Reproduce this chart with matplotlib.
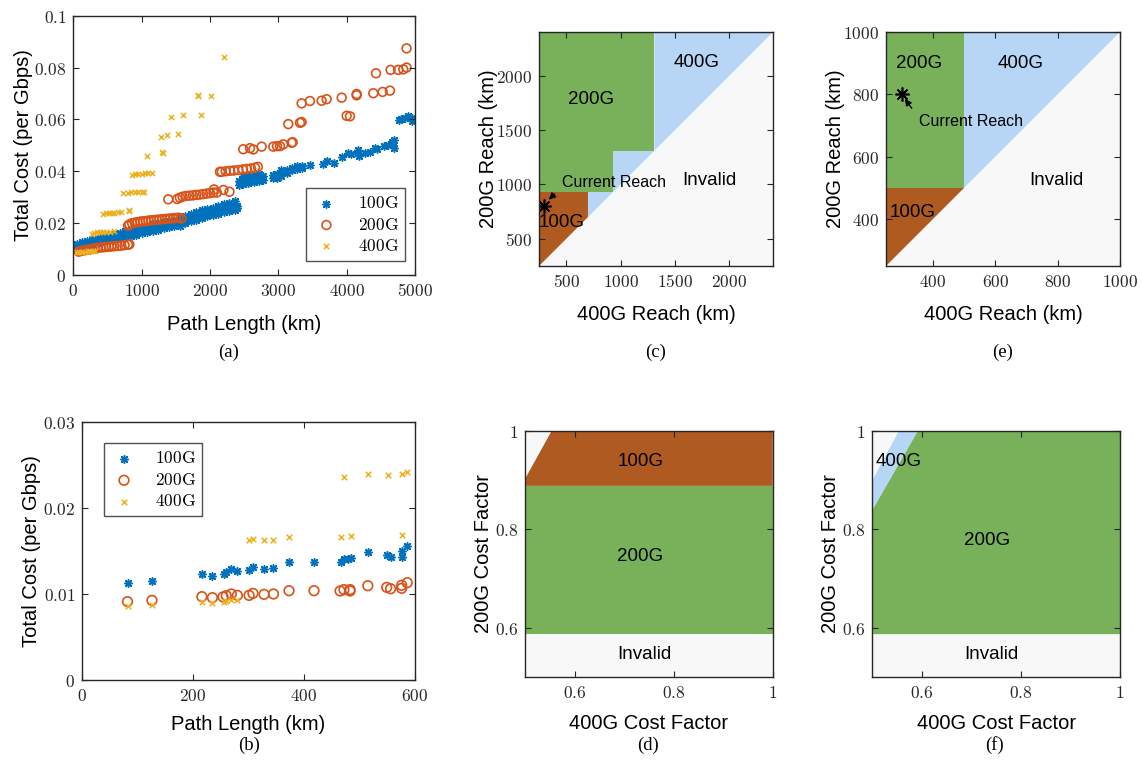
import matplotlib
matplotlib.use('Agg')
import matplotlib.pyplot as plt

plt.rcParams['mathtext.fontset'] = 'cm'

# ---------------- data ----------------
# (a) cost vs path length, whole network
a_100_x = [50, 50, 50, 120, 120, 120, 200, 200, 200, 280, 280, 280, 360, 360, 360,
           440, 440, 440, 520, 520, 520, 600, 600, 600, 680, 680, 680, 760, 760, 760,
           840, 840, 840, 920, 920, 920, 1000, 1000, 1000, 1080, 1080, 1080,
           1160, 1160, 1160, 1240, 1240, 1240, 1320, 1320, 1320, 1400, 1400, 1400,
           1480, 1480, 1480, 1560, 1560, 1560, 1640, 1640, 1640, 1720, 1720, 1720,
           1800, 1800, 1800, 1880, 1880, 1880, 1960, 1960, 1960, 2040, 2040, 2040,
           2120, 2120, 2120, 2200, 2200, 2200, 2280, 2280, 2280, 2360, 2360, 2360,
           2400, 2400,
           2420, 2420, 2480, 2480, 2480, 2560, 2560, 2560, 2640, 2640, 2640,
           2720, 2720, 2720, 2780, 2780, 2920, 2920, 2980, 2980, 3040, 3040, 3040,
           3120, 3120, 3200, 3200, 3280, 3280, 3340, 3340, 3460, 3650, 3710, 3820,
           3930, 4020, 4070, 4170, 4170, 4185, 4270, 4340, 4410, 4450, 4540, 4600,
           4660, 4660, 4700, 4700, 4760, 4800, 4850, 4900, 4950, 4950]
a_100_y = [0.0105, 0.0113, 0.0121, 0.0110, 0.0118, 0.0126, 0.0114, 0.0123, 0.0131,
           0.0120, 0.0129, 0.0137, 0.0125, 0.0134, 0.0143, 0.0130, 0.0139, 0.0148,
           0.0134, 0.0144, 0.0153, 0.0137, 0.0148, 0.0158, 0.0141, 0.0152, 0.0163,
           0.0146, 0.0157, 0.0168, 0.0151, 0.0162, 0.0174, 0.0156, 0.0168, 0.0180,
           0.0161, 0.0173, 0.0185, 0.0165, 0.0177, 0.0190, 0.0170, 0.0182, 0.0195,
           0.0175, 0.0187, 0.0200, 0.0180, 0.0192, 0.0205, 0.0184, 0.0196, 0.0210,
           0.0188, 0.0200, 0.0214, 0.0190, 0.0205, 0.0220, 0.0200, 0.0214, 0.0228,
           0.0208, 0.0222, 0.0236, 0.0214, 0.0228, 0.0243, 0.0220, 0.0234, 0.0249,
           0.0226, 0.0240, 0.0254, 0.0232, 0.0246, 0.0260, 0.0237, 0.0251, 0.0265,
           0.0242, 0.0256, 0.0272, 0.0248, 0.0262, 0.0278, 0.0252, 0.0268, 0.0284,
           0.0258, 0.0265,
           0.0348, 0.0362, 0.0352, 0.0368, 0.0380, 0.0356, 0.0370, 0.0384,
           0.0360, 0.0372, 0.0386, 0.0362, 0.0376, 0.0390, 0.0365, 0.0380,
           0.0374, 0.0384, 0.0376, 0.0390, 0.0382, 0.0395, 0.0404, 0.0392, 0.0406,
           0.0404, 0.0414, 0.0410, 0.0420, 0.0412, 0.0420, 0.0424, 0.0430, 0.0441,
           0.0433, 0.0456, 0.0469, 0.0466, 0.0482, 0.0472, 0.0460, 0.0469, 0.0476,
           0.0489, 0.0484, 0.0498, 0.0502, 0.0514, 0.0506, 0.0520, 0.0491,
           0.0598, 0.0600, 0.0604, 0.0612, 0.0594, 0.0606]

a_200_x = [80, 120, 160, 200, 240, 280, 320, 360, 400, 440, 480, 520, 560, 600, 650,
           700, 750, 800, 820,
           800, 820, 860, 900, 940, 980, 1020, 1060, 1100, 1140, 1180, 1220, 1260,
           1300, 1340, 1380, 1420, 1460, 1500, 1540, 1580,
           1390, 1520, 1560, 1600, 1650, 1700, 1750, 1800, 1850, 1900, 1950, 2000,
           2050, 2060, 2100, 2197, 2285,
           2146, 2171, 2230, 2293, 2350, 2414, 2480, 2537, 2600, 2658, 2700,
           2487, 2585, 2634, 2756, 2926, 2980, 3024, 3072, 3195, 3210,
           3146, 3317, 3341, 3341, 3463, 3634, 3707, 3927, 4000, 4048, 4146, 4146,
           4390, 4429, 4526, 4633, 4643, 4755, 4829, 4877, 4877]
a_200_y = [0.0090, 0.0093, 0.0095, 0.0097, 0.0099, 0.0101, 0.0103, 0.0105, 0.0106,
           0.0107, 0.0108, 0.0109, 0.0110, 0.0111, 0.0112, 0.0113, 0.0115, 0.0117,
           0.0118,
           0.0190, 0.0195, 0.0200, 0.0202, 0.0204, 0.0206, 0.0207, 0.0208, 0.0210,
           0.0211, 0.0212, 0.0213, 0.0214, 0.0215, 0.0216, 0.0217, 0.0218, 0.0219,
           0.0220, 0.0221, 0.0218,
           0.0292, 0.0293, 0.0298, 0.0302, 0.0305, 0.0306, 0.0307, 0.0309, 0.0310,
           0.0312, 0.0314, 0.0316, 0.0318, 0.0330, 0.0318, 0.0328, 0.0321,
           0.0398, 0.0398, 0.0400, 0.0402, 0.0403, 0.0405, 0.0407, 0.0409, 0.0411,
           0.0414, 0.0417,
           0.0485, 0.0489, 0.0484, 0.0495, 0.0495, 0.0497, 0.0497, 0.0504, 0.0510,
           0.0512,
           0.0582, 0.0587, 0.0590, 0.0662, 0.0671, 0.0672, 0.0678, 0.0684, 0.0614,
           0.0612, 0.0698, 0.0693, 0.0701, 0.0778, 0.0706, 0.0711, 0.0791, 0.0791,
           0.0793, 0.0800, 0.0874]

a_400_x = [50, 90, 130, 170, 210, 250, 290, 320,
           270, 310, 350, 390, 430, 480, 530, 600,
           440, 480, 520, 560, 600, 650, 700, 810, 820,
           733, 800, 850, 900, 950, 1000, 1030,
           854, 900, 950, 1000, 1050, 1100, 1147,
           1083, 1300, 1317, 1278, 1376, 1536, 1429, 1600, 1864, 1829, 1830, 2010, 2205]
a_400_y = [0.0088, 0.0089, 0.0090, 0.0090, 0.0091, 0.0091, 0.0092, 0.0092,
           0.0160, 0.0163, 0.0165, 0.0166, 0.0166, 0.0167, 0.0167, 0.0168,
           0.0236, 0.0238, 0.0240, 0.0241, 0.0241, 0.0242, 0.0243, 0.0252, 0.0248,
           0.0316, 0.0318, 0.0319, 0.0320, 0.0321, 0.0321, 0.0322,
           0.0386, 0.0388, 0.0390, 0.0391, 0.0392, 0.0393, 0.0393,
           0.0459, 0.0475, 0.0469, 0.0533, 0.0540, 0.0544, 0.0608, 0.0617, 0.0617,
           0.0690, 0.0696, 0.0692, 0.0840]

# (b) cost vs path length, short paths
b_x = [82, 126, 216, 235, 256, 260, 269, 280, 301, 308, 328, 345, 373, 418, 466,
       472, 480, 484, 515, 549, 556, 576, 576, 586]
b_100 = [0.01123, 0.0115, 0.0123, 0.0121, 0.0123, 0.0125, 0.01285, 0.01266,
         0.01277, 0.01316, 0.01293, 0.0130, 0.01374, 0.0137, 0.01366, 0.0140,
         0.0140, 0.01413, 0.01483, 0.01448, 0.01424, 0.01498, 0.01432, 0.0156]
b_200_x = [82, 126, 216, 235, 254, 260, 269, 280, 301, 308, 328, 345, 373, 418, 465,
           472, 483, 483, 515, 549, 556, 576, 576, 586]
b_200 = [0.0091, 0.00925, 0.00968, 0.00956, 0.00964, 0.0098, 0.00999, 0.00983,
         0.00983, 0.01006, 0.00995, 0.00999, 0.01037, 0.01037, 0.01034, 0.0105,
         0.0105, 0.01034, 0.01095, 0.01076, 0.0106, 0.0110, 0.01065, 0.0113]
b_400_x = [82, 126, 216, 235, 256, 260, 269, 280, 301, 308, 328, 345, 373, 466,
           472, 484, 515, 551, 576, 576, 586]
b_400 = [0.00863, 0.00875, 0.00906, 0.00898, 0.00906, 0.0092, 0.0093, 0.00925,
         0.01626, 0.01634, 0.01626, 0.0163, 0.0166, 0.01657, 0.02361, 0.01672,
         0.02392, 0.02377, 0.02392, 0.0168, 0.0242]

# (c) reach regions, km
c_lim = [250, 2400]
c_100_x, c_100_y = 700, 930      # 100G corner
c_step_x, c_step_y = 930, 1310   # 200G/400G step
# (e) reach regions, km
e_lim = [250, 1000]
e_split = 500
current_reach = (300, 800)        # (400G reach, 200G reach)

# (d) cost factor regions
d_lim = [0.5, 1.0]
d_invalid_top = 0.587
d_100_bottom = 0.888
d_corner = (0.554, 0.902)          # white corner: x at top, y at left edge
# (f) cost factor regions
f_invalid_top = 0.587
f_white_corner = (0.554, 0.899)
f_400_edge = (0.592, 0.839)

# ---------------- style ----------------
C100 = '#0072BD'
C200 = '#D95319'
C400 = '#EDB120'
G_GREEN = '#78B159'
G_BROWN = '#AE5A21'
G_BLUE = '#B7D6F5'
G_INVALID = '#F8F8F8'
SANS = 'Liberation Sans'
STAR = (8, 2, 0)

fig = plt.figure(figsize=(11.41, 7.69), dpi=100)


def style_axes(ax):
    for s in ax.spines.values():
        s.set_linewidth(1.0)
        s.set_color('#262626')
    ax.tick_params(direction='in', top=True, right=True, length=4, width=0.8,
                   labelsize=12.5, colors='#262626', pad=5)


def set_ticks(ax, xt, xl, yt, yl):
    ax.set_xticks(xt)
    ax.set_xticklabels(['$' + s + '$' for s in xl])
    ax.set_yticks(yt)
    ax.set_yticklabels(['$' + s + '$' for s in yl])


def caption(x, y, s):
    fig.text(x / 1141, 1 - y / 769, s, family='Liberation Serif', fontsize=13.5,
             ha='center', va='center')


def region_label(ax, x, y, s, size=13.5):
    ax.text(x, y, s, family=SANS, fontsize=size, ha='center', va='center')


# (a)
ax = fig.add_axes([73.3 / 1141, 1 - 275 / 769, 341.7 / 1141, 259.3 / 769])
ax.scatter(a_100_x, a_100_y, marker=STAR, s=28, color=C100, linewidths=1.1, label='$\\mathrm{100G}$')
ax.scatter(a_200_x, a_200_y, marker='o', s=40, facecolors='none', edgecolors=C200,
           linewidths=1.2, label='$\\mathrm{200G}$')
ax.scatter(a_400_x, a_400_y, marker='x', s=14, color=C400, linewidths=1.1, label='$\\mathrm{400G}$')
ax.set_xlim(0, 5000)
ax.set_ylim(0, 0.1)
set_ticks(ax, [0, 1000, 2000, 3000, 4000, 5000], ['0', '1000', '2000', '3000', '4000', '5000'],
          [0, 0.02, 0.04, 0.06, 0.08, 0.1], ['0', '0.02', '0.04', '0.06', '0.08', '0.1'])
ax.set_xlabel('Path Length (km)', family=SANS, fontsize=14.5, labelpad=11)
ax.set_ylabel('Total Cost (per Gbps)', family=SANS, fontsize=14.5, labelpad=1)
style_axes(ax)
leg = ax.legend(loc='lower right', fontsize=12.5, frameon=True, fancybox=False,
                edgecolor='#262626', handletextpad=1.0, handlelength=1.6, borderpad=0.35,
                labelspacing=0.2, bbox_to_anchor=(0.995, 0.02))
leg.get_frame().set_linewidth(1.0)
caption(229, 352, '(a)')

# (b)
ax = fig.add_axes([82 / 1141, 1 - 680 / 769, 333 / 1141, 258.3 / 769])
ax.scatter(b_x, b_100, marker=STAR, s=30, color=C100, linewidths=1.1, label='$\\mathrm{100G}$')
ax.scatter(b_200_x, b_200, marker='o', s=48, facecolors='none', edgecolors=C200,
           linewidths=1.2, label='$\\mathrm{200G}$')
ax.scatter(b_400_x, b_400, marker='x', s=16, color=C400, linewidths=1.1, label='$\\mathrm{400G}$')
ax.set_xlim(0, 600)
ax.set_ylim(0, 0.03)
set_ticks(ax, [0, 200, 400, 600], ['0', '200', '400', '600'],
          [0, 0.01, 0.02, 0.03], ['0', '0.01', '0.02', '0.03'])
ax.set_xlabel('Path Length (km)', family=SANS, fontsize=14.5, labelpad=7)
ax.set_ylabel('Total Cost (per Gbps)', family=SANS, fontsize=14.5, labelpad=1)
style_axes(ax)
leg = ax.legend(loc='upper left', fontsize=12.5, frameon=True, fancybox=False,
                edgecolor='#262626', handletextpad=1.0, handlelength=1.6, borderpad=0.35,
                labelspacing=0.2, bbox_to_anchor=(0.04, 0.95))
leg.get_frame().set_linewidth(1.0)
caption(249, 745, '(b)')

# (c)
ax = fig.add_axes([539 / 1141, 1 - 266 / 769, 234 / 1141, 234 / 769])
lo, hi = c_lim
ax.set_facecolor(G_INVALID)
ax.fill([lo, c_100_x, c_100_x, lo], [lo, c_100_x, c_100_y, c_100_y], color=G_BROWN, lw=0)
ax.fill([c_100_x, hi, c_step_y, c_step_y, c_step_x, c_step_x, c_100_x],
        [c_100_x, hi, hi, c_step_y, c_step_y, c_100_y, c_100_y], color=G_BLUE, lw=0)
ax.fill([lo, c_step_x, c_step_x, c_step_y, c_step_y, lo],
        [c_100_y, c_100_y, c_step_y, c_step_y, hi, hi], color=G_GREEN, lw=0)
ax.set_xlim(lo, hi)
ax.set_ylim(lo, hi)
set_ticks(ax, [500, 1000, 1500, 2000], ['500', '1000', '1500', '2000'],
          [500, 1000, 1500, 2000], ['500', '1000', '1500', '2000'])
region_label(ax, 1700, 2120, '400G')
region_label(ax, 730, 1780, '200G')
region_label(ax, 455, 650, '100G')
region_label(ax, 1815, 1040, 'Invalid')
ax.plot(*current_reach, marker=STAR, ms=10, color='black', mew=1.2)
ax.annotate('', xy=(322, 842), xytext=(413, 930),
            arrowprops=dict(arrowstyle='-|>', color='black', lw=0.9, mutation_scale=10))
ax.text(458, 1015, 'Current Reach', family=SANS, fontsize=11.5, ha='left', va='center')
ax.set_xlabel('400G Reach (km)', family=SANS, fontsize=14.5, labelpad=10)
ax.set_ylabel('200G Reach (km)', family=SANS, fontsize=14.5, labelpad=-1)
style_axes(ax)
caption(656, 352, '(c)')

# (e)
ax = fig.add_axes([886 / 1141, 1 - 266 / 769, 234 / 1141, 234 / 769])
lo, hi = e_lim
ax.set_facecolor(G_INVALID)
ax.fill([lo, e_split, lo], [lo, e_split, e_split], color=G_BROWN, lw=0)
ax.fill([lo, e_split, e_split, lo], [e_split, e_split, hi, hi], color=G_GREEN, lw=0)
ax.fill([e_split, hi, e_split], [e_split, hi, hi], color=G_BLUE, lw=0)
ax.set_xlim(lo, hi)
ax.set_ylim(lo, hi)
set_ticks(ax, [400, 600, 800, 1000], ['400', '600', '800', '1000'],
          [400, 600, 800, 1000], ['400', '600', '800', '1000'])
region_label(ax, 356, 900, '200G')
region_label(ax, 682, 900, '400G')
region_label(ax, 336, 420, '100G')
region_label(ax, 795, 525, 'Invalid')
ax.plot(*current_reach, marker=STAR, ms=10, color='black', mew=1.2)
ax.annotate('', xy=(305, 793), xytext=(338, 748),
            arrowprops=dict(arrowstyle='-|>', color='black', lw=0.9, mutation_scale=10))
ax.text(357, 712, 'Current Reach', family=SANS, fontsize=11.5, ha='left', va='center')
ax.set_xlabel('400G Reach (km)', family=SANS, fontsize=14.5, labelpad=10)
ax.set_ylabel('200G Reach (km)', family=SANS, fontsize=14.5, labelpad=-1)
style_axes(ax)
caption(1003, 352, '(e)')

# (d)
ax = fig.add_axes([525 / 1141, 1 - 677 / 769, 247.7 / 1141, 246.3 / 769])
lo, hi = d_lim
ax.set_facecolor(G_INVALID)
ax.fill([lo, hi, hi, lo], [d_invalid_top, d_invalid_top, d_100_bottom, d_100_bottom],
        color=G_GREEN, lw=0)
ax.fill([lo, hi, hi, d_corner[0], lo], [d_100_bottom, d_100_bottom, hi, hi, d_corner[1]],
        color=G_BROWN, lw=0)
ax.set_xlim(lo, hi)
ax.set_ylim(lo, hi)
set_ticks(ax, [0.6, 0.8, 1], ['0.6', '0.8', '1'], [0.6, 0.8, 1], ['0.6', '0.8', '1'])
region_label(ax, 0.733, 0.937, '100G')
region_label(ax, 0.733, 0.745, '200G')
region_label(ax, 0.741, 0.545, 'Invalid')
ax.set_xlabel('400G Cost Factor', family=SANS, fontsize=14.5, labelpad=9)
ax.set_ylabel('200G Cost Factor', family=SANS, fontsize=14.5, labelpad=1)
style_axes(ax)
caption(648, 745, '(d)')

# (f)
ax = fig.add_axes([872.3 / 1141, 1 - 677 / 769, 247.7 / 1141, 246.3 / 769])
ax.set_facecolor(G_INVALID)
ax.fill([lo, hi, hi, f_400_edge[0], lo], [f_invalid_top, f_invalid_top, hi, hi, f_400_edge[1]],
        color=G_GREEN, lw=0)
ax.fill([lo, f_400_edge[0], f_white_corner[0], lo], [f_400_edge[1], hi, hi, f_white_corner[1]],
        color=G_BLUE, lw=0)
ax.set_xlim(lo, hi)
ax.set_ylim(lo, hi)
set_ticks(ax, [0.6, 0.8, 1], ['0.6', '0.8', '1'], [0.6, 0.8, 1], ['0.6', '0.8', '1'])
region_label(ax, 0.554, 0.937, '400G')
region_label(ax, 0.731, 0.777, '200G')
region_label(ax, 0.741, 0.545, 'Invalid')
ax.set_xlabel('400G Cost Factor', family=SANS, fontsize=14.5, labelpad=9)
ax.set_ylabel('200G Cost Factor', family=SANS, fontsize=14.5, labelpad=1)
style_axes(ax)
caption(995, 745, '(f)')

fig.savefig('out.png', dpi=100)
